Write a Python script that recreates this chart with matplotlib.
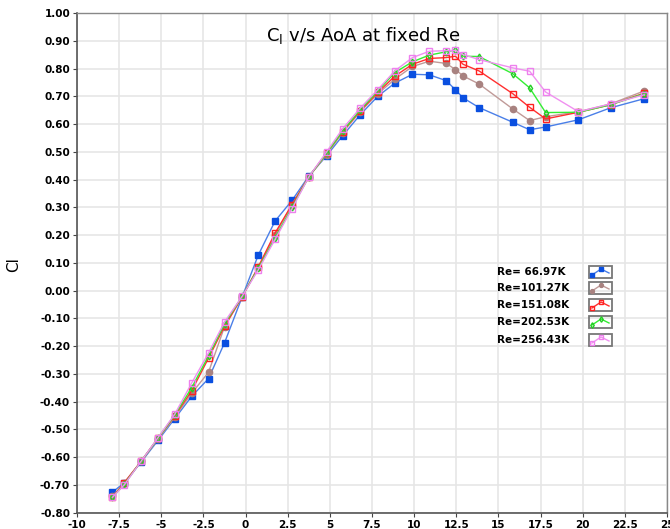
import matplotlib
matplotlib.use("Agg")
import matplotlib.pyplot as plt
from matplotlib.patches import Rectangle
from matplotlib.lines import Line2D

plt.rcParams['axes.unicode_minus'] = False
plt.rcParams['font.family'] = ['DejaVu Sans']

aoa = [-7.9, -7.2, -6.2, -5.2, -4.2, -3.2, -2.2, -1.25, -0.2, 0.75, 1.75, 2.75,
       3.75, 4.8, 5.75, 6.8, 7.85, 8.85, 9.9, 10.9, 11.9, 12.45, 12.9, 13.85,
       15.85, 16.85, 17.8, 19.75, 21.65, 23.65]

cl_6697 = [-0.726, -0.693, -0.618, -0.540, -0.461, -0.381, -0.317, -0.188, -0.022,
           0.128, 0.251, 0.325, 0.413, 0.486, 0.558, 0.634, 0.701, 0.748, 0.780,
           0.778, 0.757, 0.724, 0.695, 0.660, 0.607, 0.580, 0.590, 0.616, 0.659, 0.692]
cl_10127 = [-0.740, -0.695, -0.615, -0.535, -0.455, -0.370, -0.294, -0.130, -0.022,
            0.085, 0.200, 0.310, 0.410, 0.490, 0.570, 0.645, 0.710, 0.762, 0.808,
            0.827, 0.819, 0.797, 0.774, 0.745, 0.655, 0.613, 0.627, 0.645, 0.673, 0.720]
cl_15108 = [-0.745, -0.692, -0.615, -0.532, -0.451, -0.361, -0.243, -0.128, -0.022,
            0.085, 0.208, 0.310, 0.410, 0.495, 0.573, 0.648, 0.715, 0.773, 0.816,
            0.837, 0.840, 0.845, 0.816, 0.792, 0.710, 0.661, 0.619, 0.643, 0.670, 0.712]
cl_20253 = [-0.745, -0.698, -0.615, -0.532, -0.448, -0.350, -0.235, -0.120, -0.020,
            0.080, 0.190, 0.300, 0.410, 0.495, 0.575, 0.652, 0.720, 0.786, 0.825,
            0.849, 0.861, 0.867, 0.845, 0.844, 0.782, 0.731, 0.642, 0.643, 0.670, 0.710]
cl_25643 = [-0.745, -0.700, -0.615, -0.530, -0.445, -0.333, -0.225, -0.113, -0.020,
            0.075, 0.185, 0.295, 0.410, 0.500, 0.583, 0.658, 0.725, 0.792, 0.840,
            0.863, 0.865, 0.866, 0.851, 0.833, 0.803, 0.791, 0.716, 0.645, 0.673, 0.706]

labels = ["Re= 66.97K", "Re=101.27K", "Re=151.08K", "Re=202.53K", "Re=256.43K"]
series = [cl_6697, cl_10127, cl_15108, cl_20253, cl_25643]

xticks = [-10, -7.5, -5, -2.5, 0, 2.5, 5, 7.5, 10, 12.5, 15, 17.5, 20, 22.5, 25]
xticklabels = ["-10", "-7.5", "-5", "-2.5", "0", "2.5", "5", "7.5", "10", "12.5",
               "15", "17.5", "20", "22.5", "25"]

styles = [
    dict(color="#4a7fe8", marker="s", ms=4.3, mfc="#0a4fe0", mec="#0a4fe0", lw=1.0),
    dict(color="#c09a98", marker="o", ms=4.5, mfc="#a88280", mec="#a88280", lw=1.0),
    dict(color="#ff3030", marker="s", ms=4.3, mfc="none", mec="#ff2020", lw=1.0),
    dict(color="#33ee33", marker="d", ms=3.5, mfc="none", mec="#22cc22", lw=1.0),
    dict(color="#f090f0", marker="s", ms=4.3, mfc="none", mec="#ee80ee", lw=1.0),
]

W, H = 670, 529
fig = plt.figure(figsize=(6.7, 5.29), dpi=100)
ax = fig.add_axes([0.115, 0.031, 0.8805, 0.944])

for y, lab, st in zip(series, labels, styles):
    ax.plot(aoa, y, label=lab, mew=1.0, **st)

ax.set_xlim(-10, 25)
ax.set_ylim(-0.8, 1.0)
ax.set_xticks(xticks)
ax.set_xticklabels(xticklabels)
yt = [round(-0.8 + 0.1 * i, 2) for i in range(19)]
ax.set_yticks(yt)
ax.set_yticklabels([f"{v:.2f}" for v in yt])
for lbl in ax.get_xticklabels() + ax.get_yticklabels():
    lbl.set_fontweight("bold")
    lbl.set_fontsize(7.5)
ax.tick_params(length=3, width=0.8, color="#444444", pad=2)
ax.grid(True, color="#e6e6e6", lw=1.2)
ax.set_axisbelow(True)
for s in ["left", "bottom"]:
    ax.spines[s].set_color("#555555")
    ax.spines[s].set_linewidth(1.2)
for s in ["top", "right"]:
    ax.spines[s].set_color("#888888")
    ax.spines[s].set_linewidth(1.0)

fig.text(363 / W, 1 - 35 / H, r"C$_\mathregular{l}$ v/s AoA at fixed Re",
         ha="center", va="center", fontsize=13)
fig.text(0.02, 0.5, "Cl", rotation=90, ha="center", va="center", fontsize=11)

# manual legend: text on the left, framed sample on the right
leg_y = [272, 288, 305, 322, 340]
for yy, lab, st in zip(leg_y, labels, styles):
    fig.text(497 / W, 1 - yy / H, lab, ha="left", va="center",
             fontsize=7.5, fontweight="bold")
    bx0, bx1 = 589, 612
    by0, by1 = yy - 6, yy + 6
    fig.patches.append(Rectangle((bx0 / W, 1 - by1 / H), (bx1 - bx0) / W,
                                 (by1 - by0) / H, transform=fig.transFigure,
                                 fill=False, ec="#777777", lw=1.3, zorder=5))
    px = [592, 601, 609]
    py = [yy + 3, yy - 3, yy + 1]
    ln = Line2D([p / W for p in px], [1 - p / H for p in py],
                transform=fig.transFigure, color=st["color"], lw=1.0,
                marker=st["marker"], ms=2.8, mfc=st["mfc"], mec=st["mec"],
                markevery=[0, 1], zorder=6)
    fig.lines.append(ln)

fig.savefig("out.png", dpi=100)
